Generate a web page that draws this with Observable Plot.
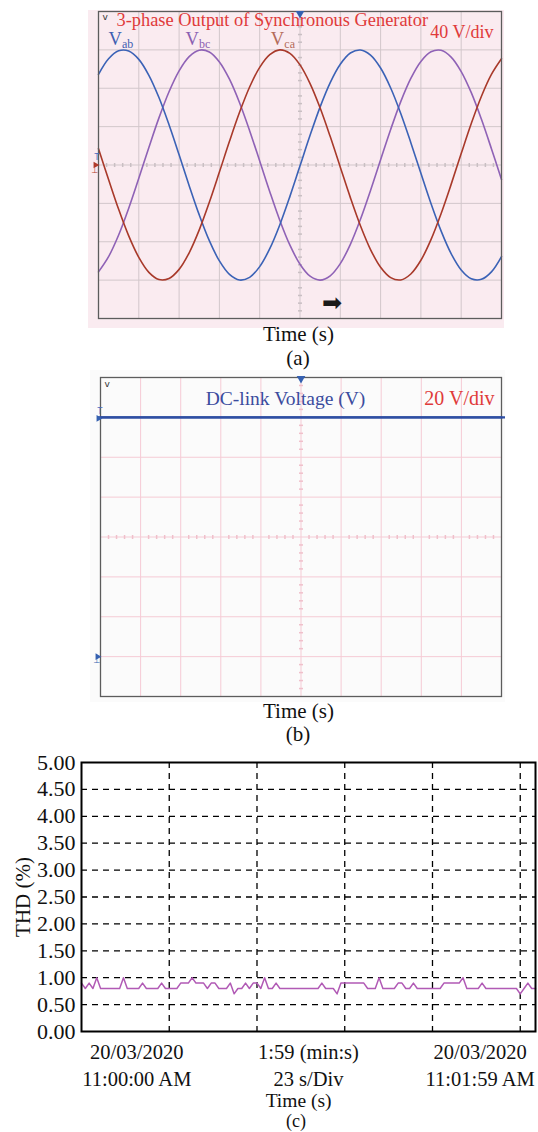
<!DOCTYPE html>
<html><head><meta charset="utf-8">
<script src="https://cdn.jsdelivr.net/npm/d3@7"></script>
<script src="https://cdn.jsdelivr.net/npm/@observablehq/plot@0.6"></script>
<style>
body{margin:0;background:#fff;}
#wrap{position:relative;width:538px;height:1132px;overflow:hidden;font-family:"Liberation Serif",serif;}
.panel{position:absolute;}
.cap{position:absolute;font-family:"Liberation Serif",serif;color:#111;white-space:nowrap;transform:translateX(-50%);}
</style></head><body><div id="wrap"></div>
<script>
// ---------- DATA ----------
// (a) sample times in divisions, phase voltages in V (40 V/div)
const tDiv = [0,0.25,0.5,0.75,1,1.25,1.5,1.75,2,2.25,2.5,2.75,3,3.25,3.5,3.75,4,4.25,4.5,4.75,5,5.25,5.5,5.75,6,6.25,6.5,6.75,7,7.25,7.5,7.75,8,8.25,8.5,8.75,9,9.25,9.5,9.75,10];
const vab = [94.4,110.7,119.0,118.8,110.1,93.5,70.3,41.9,10.6,-21.5,-52.0,-78.9,-100.0,-114.0,-119.9,-117.1,-105.9,-87.2,-62.2,-32.7,-0.9,30.9,60.6,85.9,105.0,116.7,119.9,114.6,101.1,80.3,53.7,23.3,-8.7,-40.2,-68.7,-92.4,-109.4,-118.6,-119.2,-111.4,-95.5];
const vbc = [-111.4,-95.5,-72.9,-45.0,-13.8,18.3,49.1,76.4,98.2,113.0,119.7,117.8,107.4,89.4,64.9,35.8,4.2,-27.8,-57.8,-83.6,-103.4,-115.9,-120.0,-115.5,-102.8,-82.7,-56.6,-26.5,5.5,37.1,66.1,90.3,108.0,118.0,119.6,112.5,97.4,75.4,47.9,17.0,-15.1];
const vca = [17.0,-15.1,-46.2,-73.9,-96.3,-111.9,-119.4,-118.3,-108.8,-91.5,-67.6,-38.9,-7.4,24.7,54.9,81.3,101.8,115.0,120.0,116.4,104.4,84.9,59.4,29.6,-2.3,-34.0,-63.3,-88.1,-106.6,-117.4,-119.8,-113.6,-99.3,-77.8,-50.8,-20.2,11.9,43.2,71.4,94.4,110.7];
const gridXa = [1,2,3,4,5,6,7,8,9];
const gridYa = [-120,-80,-40,0,40,80,120];

// (b) DC-link voltage (20 V/div)
const dcTime = [0, 10];
const dcVolt = [120, 120];
const gridYb = [0,20,40,60,80,100,120];

// (c) THD (%) sampled each second, 0..119 s
const thd = [0.9,0.8,0.9,0.8,1.0,0.8,0.8,0.8,0.8,0.8,0.8,1.0,0.8,0.8,0.8,0.8,0.9,0.8,0.8,0.8,
0.8,0.9,0.8,0.8,0.8,0.8,0.9,0.9,0.9,1.0,0.9,0.9,0.9,0.8,0.9,0.9,0.8,0.8,0.8,0.9,
0.7,0.8,0.8,0.9,0.8,0.9,0.9,0.8,1.0,0.8,0.8,0.9,0.8,0.8,0.8,0.8,0.8,0.8,0.8,0.8,
0.8,0.8,0.8,0.9,0.8,0.8,0.8,0.7,0.9,0.9,0.9,0.9,0.9,0.9,0.9,0.8,0.8,0.8,1.0,0.8,
0.8,0.8,0.8,0.9,0.9,0.8,0.8,0.9,0.8,0.8,0.8,0.8,0.8,0.8,0.8,0.9,0.9,0.9,0.9,0.9,
1.0,0.8,0.8,0.8,0.8,0.9,0.8,0.8,0.8,0.8,0.8,0.8,0.8,0.8,0.8,0.7,0.8,0.9,0.8,0.8];
const gridXc = [23,46,69,92,115];
const gridYc = [0.5,1,1.5,2,2.5,3,3.5,4,4.5];
const xLabelPos = [14.5, 59.5, 104.5];
const xLabels = ["20/03/2020\n11:00:00 AM", "1:59 (min:s)\n23 s/Div", "20/03/2020\n11:01:59 AM"];

// ---------- HELPERS ----------
const wrap = document.getElementById("wrap");
function place(el, left, top){ const d=document.createElement("div"); d.className="panel"; d.style.left=left+"px"; d.style.top=top+"px"; d.appendChild(el); wrap.appendChild(d); }
function cap(text, cx, baseline, fs){
  const d=document.createElement("div"); d.className="cap"; d.textContent=text;
  d.style.fontSize=fs+"px"; d.style.lineHeight=(fs*1.107)+"px";
  d.style.left=cx+"px"; d.style.top=(baseline-0.891*fs)+"px"; wrap.appendChild(d);
}
const vtick = {draw(ctx,size){const h=Math.sqrt(size/Math.PI); ctx.moveTo(0,-h); ctx.lineTo(0,h);}};
const htick = {draw(ctx,size){const h=Math.sqrt(size/Math.PI); ctx.moveTo(-h,0); ctx.lineTo(h,0);}};
const serif = "Liberation Serif";
const minorX = d3.range(0.2, 10, 0.2).filter(v => Math.abs(v - Math.round(v)) > 0.01);

// ---------- PANEL (a) ----------
const minorYa = d3.range(-152, 160, 8).filter(v => v % 40 !== 0);
const pa = Plot.plot({
  width: 416, height: 318, marginLeft: 10, marginRight: 3, marginTop: 1, marginBottom: 10,
  style: {background: "#faebf0", overflow: "visible", fontFamily: serif},
  x: {domain: [0, 10], axis: null},
  y: {domain: [-160, 160], axis: null},
  marks: [
    Plot.ruleX(gridXa, {stroke: "#d2c7cb", strokeWidth: 1}),
    Plot.ruleY(gridYa, {stroke: "#d2c7cb", strokeWidth: 1}),
    Plot.dot(minorX, {x: d => d, y: () => 0, symbol: vtick, r: 2, stroke: "#c9bfc3", fill: "none"}),
    Plot.dot(minorYa, {y: d => d, x: () => 5, symbol: htick, r: 2, stroke: "#c9bfc3", fill: "none"}),
    Plot.line(tDiv, {x: d => d, y: (d, i) => vbc[i], stroke: "#8f62b6", strokeWidth: 1.6, curve: "catmull-rom"}),
    Plot.line(tDiv, {x: d => d, y: (d, i) => vab[i], stroke: "#3b62b6", strokeWidth: 1.6, curve: "catmull-rom"}),
    Plot.line(tDiv, {x: d => d, y: (d, i) => vca[i], stroke: "#a8392a", strokeWidth: 1.6, curve: "catmull-rom"}),
    Plot.frame({stroke: "#5c5c5c", strokeWidth: 1.3}),
    Plot.text(["3-phase Output of Synchronous Generator"], {frameAnchor: "top-left", textAnchor: "start", lineAnchor: "bottom", dx: 18, dy: 14.5, fontSize: 18.4, fill: "#e03a3a"}),
    Plot.text(["40 V/div"], {frameAnchor: "top-right", textAnchor: "end", lineAnchor: "bottom", dx: -8, dy: 26, fontSize: 18, fill: "#e03a3a"}),
    Plot.text(["v"], {frameAnchor: "top-left", textAnchor: "start", lineAnchor: "bottom", dx: 4, dy: 8, fontSize: 9, fontFamily: "DejaVu Sans", fill: "#333"}),
    Plot.text(["V"], {frameAnchor: "top-left", textAnchor: "start", lineAnchor: "bottom", dx: 10, dy: 33, fontSize: 18.5, fill: "#3f5fb2"}),
    Plot.text(["ab"], {frameAnchor: "top-left", textAnchor: "start", lineAnchor: "bottom", dx: 23.5, dy: 36, fontSize: 12, fill: "#3f5fb2"}),
    Plot.text(["V"], {frameAnchor: "top-left", textAnchor: "start", lineAnchor: "bottom", dx: 87, dy: 33, fontSize: 18.5, fill: "#8a60b2"}),
    Plot.text(["bc"], {frameAnchor: "top-left", textAnchor: "start", lineAnchor: "bottom", dx: 100.5, dy: 36, fontSize: 12, fill: "#8a60b2"}),
    Plot.text(["V"], {frameAnchor: "top-left", textAnchor: "start", lineAnchor: "bottom", dx: 172.3, dy: 33, fontSize: 18.5, fill: "#b36b5a"}),
    Plot.text(["ca"], {frameAnchor: "top-left", textAnchor: "start", lineAnchor: "bottom", dx: 185.8, dy: 36, fontSize: 12, fill: "#b36b5a"}),
    Plot.dot([5], {x: d => d, frameAnchor: "top", symbol: "triangle", rotate: 180, r: 3.2, fill: "#3560b0", dy: 2}),
    Plot.text([0], {y: d => d, frameAnchor: "left", text: () => "T", dx: -4, dy: -8, fontSize: 8, fontFamily: "DejaVu Sans", fill: "#4a6cc0"}),
    Plot.dot([0], {y: d => d, frameAnchor: "left", symbol: "triangle", rotate: 90, r: 2.5, fill: "#b03a2a", dx: -3}),
    Plot.text([0], {y: d => d, frameAnchor: "left", text: () => "⊥", dx: -7, dy: 5, fontSize: 8, fontFamily: "DejaVu Sans", fill: "#b03a2a"}),
    Plot.text(["➡"], {frameAnchor: "bottom", dx: 32, dy: -8, fontSize: 24, fontFamily: "DejaVu Sans", fill: "#1a1a1a"})
  ]
});
place(pa, 88, 10);
cap("Time (s)", 298.5, 341.7, 21);
cap("(a)", 298, 365.5, 21);

// ---------- PANEL (b) ----------
const minorYb = d3.range(-16, 140, 4).filter(v => v % 20 !== 0);
const pb = Plot.plot({
  width: 415, height: 332, marginLeft: 10, marginRight: 4, marginTop: 7, marginBottom: 6,
  style: {background: "#fbfbfb", overflow: "visible", fontFamily: serif},
  x: {domain: [0, 10], axis: null},
  y: {domain: [-20, 140], axis: null},
  marks: [
    Plot.ruleX(gridXa, {stroke: "#f5cbd5", strokeWidth: 1}),
    Plot.ruleY(gridYb, {stroke: "#f5cbd5", strokeWidth: 1}),
    Plot.dot(minorX, {x: d => d, y: () => 60, symbol: vtick, r: 2, stroke: "#f0c0cb", fill: "none"}),
    Plot.dot(minorYb, {y: d => d, x: () => 5, symbol: htick, r: 2, stroke: "#f0c0cb", fill: "none"}),
    Plot.frame({stroke: "#5c5c5c", strokeWidth: 1.3}),
    Plot.ruleY(dcVolt.slice(0, 1), {stroke: "#2f4fa3", strokeWidth: 2.4, insetLeft: -3, insetRight: -4}),
    Plot.line(dcTime, {x: d => d, y: (d, i) => dcVolt[i], stroke: "#2f4fa3", strokeWidth: 2.4}),
    Plot.text(["DC-link Voltage (V)"], {frameAnchor: "top-left", textAnchor: "middle", lineAnchor: "bottom", dx: 185, dy: 27, fontSize: 19.5, fill: "#3b4c9e"}),
    Plot.text(["20 V/div"], {frameAnchor: "top-right", textAnchor: "end", lineAnchor: "bottom", dx: -7, dy: 27, fontSize: 20, fill: "#e03a3a"}),
    Plot.text(["v"], {frameAnchor: "top-left", textAnchor: "start", lineAnchor: "bottom", dx: 4, dy: 9, fontSize: 9, fontFamily: "DejaVu Sans", fill: "#333"}),
    Plot.dot([5], {x: d => d, frameAnchor: "top", symbol: "triangle", rotate: 180, r: 3.2, fill: "#3560b0", dy: 1}),
    Plot.text([120], {y: d => d, frameAnchor: "left", text: () => "T", dx: -3, dy: -6, fontSize: 8, fontFamily: "DejaVu Sans", fill: "#4a6cc0"}),
    Plot.dot([120], {y: d => d, frameAnchor: "left", symbol: "triangle", rotate: 90, r: 2.5, fill: "#3560b0", dx: -2, dy: 1}),
    Plot.dot([0], {y: d => d, frameAnchor: "left", symbol: "triangle", rotate: 90, r: 2.5, fill: "#3560b0", dx: -3}),
    Plot.text([0], {y: d => d, frameAnchor: "left", text: () => "⊥", dx: -7, dy: 4, fontSize: 8, fontFamily: "DejaVu Sans", fill: "#3560b0"})
  ]
});
place(pb, 90, 370);
cap("Time (s)", 298.5, 718.3, 21);
cap("(b)", 298, 742, 21);

// ---------- PANEL (c) ----------
const thdRows = thd.map((v, i) => ({t: i, v}));
const pc = Plot.plot({
  width: 538, height: 392, marginLeft: 81, marginRight: 3, marginTop: 22, marginBottom: 101,
  style: {background: "transparent", overflow: "visible", fontFamily: serif, fontSize: "22px", color: "#111"},
  x: {domain: [0, 119], axis: null},
  y: {domain: [0, 5], ticks: 10, tickFormat: d => d.toFixed(2), tickSize: 0, tickPadding: 6, label: null},
  marks: [
    Plot.ruleY(gridYc, {stroke: "#000", strokeWidth: 1.3, strokeDasharray: "6,5"}),
    Plot.ruleX(gridXc, {stroke: "#000", strokeWidth: 1.3, strokeDasharray: "6,5"}),
    Plot.line(thdRows, {x: "t", y: "v", stroke: "#b15ab5", strokeWidth: 1.5}),
    Plot.frame({stroke: "#000", strokeWidth: 2}),
    Plot.text(xLabels, {x: (d, i) => xLabelPos[i], text: d => d, frameAnchor: "bottom", lineAnchor: "top", dy: 8.5, lineHeight: 1.3, fontSize: 20.5, fill: "#111"}),
    Plot.text(["THD (%)"], {frameAnchor: "left", textAnchor: "middle", rotate: -90, dx: -58, fontSize: 21, fill: "#111"})
  ]
});
place(pc, 0, 740);
cap("Time (s)", 298.6, 1107.5, 19.5);
cap("(c)", 296, 1128, 18);
</script></body></html>
